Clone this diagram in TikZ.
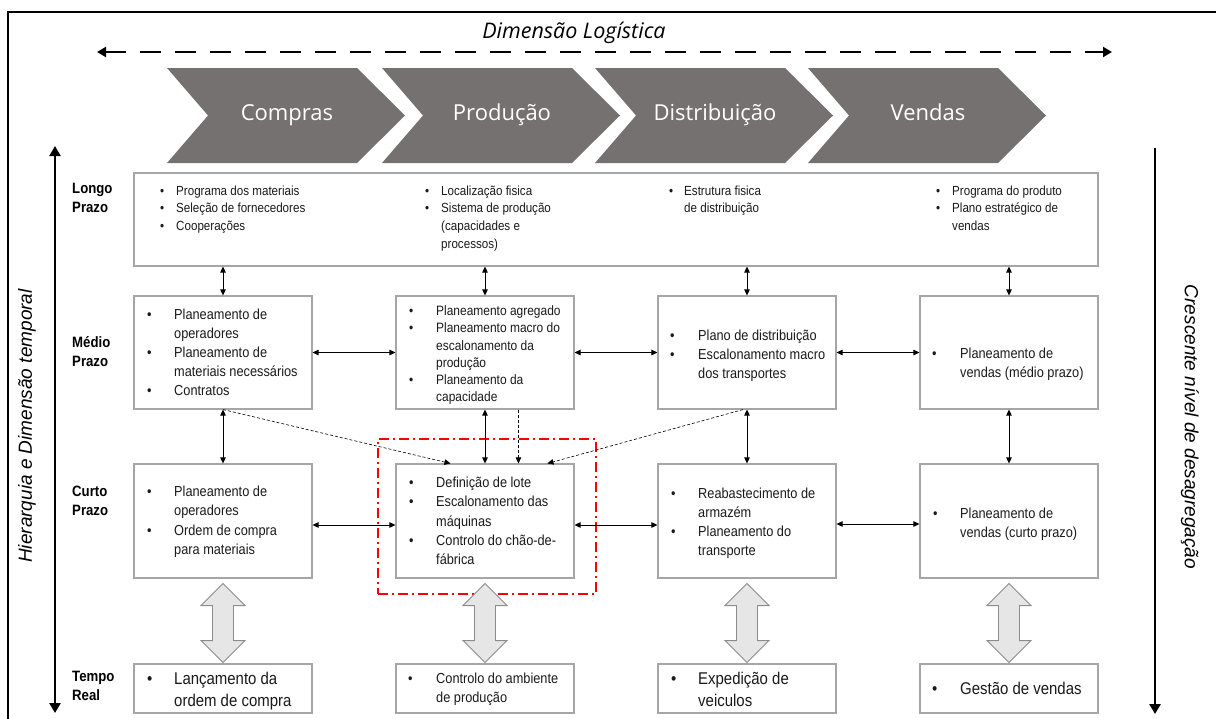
\documentclass[tikz,border=0pt]{standalone}
\usepackage{fontspec}
\setmainfont{Liberation Sans}
\newfontfamily\nar[FakeStretch=0.88]{Liberation Sans}
\newfontfamily\osans{Open Sans}
\usetikzlibrary{arrows.meta,calc}
\definecolor{chev}{HTML}{767171}
\definecolor{boxline}{HTML}{A6A6A6}
\definecolor{txtc}{HTML}{1A1A1A}
\definecolor{bigfill}{HTML}{E6E6E6}
\definecolor{bigline}{HTML}{8C8C8C}
\begin{document}
\begin{tikzpicture}[x=1pt,y=-1pt,
  box/.style={draw=boxline,line width=1.1pt,fill=white,inner sep=0pt},
  chevshape/.style={fill=chev,draw=none},
  chevtxt/.style={text=white,font=\osans\fontsize{22}{26}\selectfont,inner sep=0pt,text height=16pt,text depth=5pt},
  tS/.style={inner sep=0pt,anchor=west,text=txtc,font=\nar\fontsize{13.2}{15}\selectfont,text height=9.5pt,text depth=2.8pt},
  tN/.style={inner sep=0pt,anchor=west,text=txtc,font=\nar\fontsize{13.6}{16}\selectfont,text height=9.8pt,text depth=2.9pt},
  tM/.style={inner sep=0pt,anchor=west,text=txtc,font=\nar\fontsize{14.5}{17}\selectfont,text height=10.4pt,text depth=3pt},
  tL/.style={inner sep=0pt,anchor=west,text=txtc,font=\nar\fontsize{17}{20}\selectfont,text height=12.2pt,text depth=3.6pt},
  lab/.style={inner sep=0pt,anchor=west,font=\nar\bfseries\fontsize{15}{18}\selectfont,text height=10.8pt,text depth=3.2pt},
  dbl/.style={{Triangle[length=6pt,width=5.5pt]}-{Triangle[length=6pt,width=5.5pt]},line width=0.8pt},
  dsh/.style={-{Triangle[length=6pt,width=5.5pt]},dash pattern=on 3pt off 2pt,line width=0.6pt},
  thickarr/.style={line width=2.8pt},
  bigarr/.style={fill=bigfill,draw=bigline,line width=0.9pt,line join=miter},
  focus/.style={draw=red,line width=1.8pt,dash pattern=on 10pt off 4pt on 2pt off 4pt,inner sep=0pt}
]
\useasboundingbox (0,0) rectangle (1216,718);
% frame
\draw[line width=1.5pt] (8,725) -- (8,12) -- (1225,12);

% title and logistic arrow
\node[font=\osans\itshape\fontsize{21.5}{24}\selectfont,inner sep=0pt] (title) at (574,33) {Dimensão Logística};
\coordinate (dl) at (97,52);
\coordinate (dr) at (1112,52);
\draw[line width=2.4pt,dash pattern=on 21pt off 14pt,{Triangle[length=9pt,width=10pt]}-{Triangle[length=9pt,width=10pt]}] (dl) -- (dr);

% chevrons
\foreach \x/\t [count=\i] in {167/Compras,382/Produção,595/Distribuição,808/Vendas}{
  \fill[chevshape] (\x,68) -- ++(190,0) -- ++(48,47.5) -- ++(-48,47.5) -- ++(-190,0) -- ++(41,-47.5) -- cycle;
  \node[chevtxt] (c\i) at (\x+120,115) {\t};
}

% side arrows and labels
\coordinate (la1) at (55,146);
\coordinate (la2) at (55,713);
\draw[thickarr,{Triangle[length=10pt,width=11pt]}-{Triangle[length=10pt,width=11pt]}] (la1) -- (la2);
\coordinate (ra1) at (1155,148);
\coordinate (ra2) at (1155,714);
\draw[thickarr,-{Triangle[length=10pt,width=11pt]}] (ra1) -- (ra2);
\node[rotate=90,font=\itshape\fontsize{19}{22}\selectfont,inner sep=0pt] (hl) at (27,426) {Hierarquia e Dimensão temporal};
\node[rotate=-90,font=\itshape\fontsize{19}{22}\selectfont,inner sep=0pt] (hr) at (1190,427) {Crescente nível de desagregação};

% row labels
\foreach \y/\t [count=\i] in {190/Longo,209/Prazo,344/Médio,363/Prazo,493/Curto,512/Prazo,678/Tempo,697/Real}
  \node[lab] (rl\i) at (72,\y) {\t};

% focus box
\node[focus,minimum width=218pt,minimum height=155pt] (foc) at (487,516.5) {};

% boxes
\node[box,minimum width=964pt,minimum height=93pt] (L) at (616,219.5) {};
\foreach \cx [count=\i] in {223,485,747,1009}{
  \node[box,minimum width=178pt,minimum height=113pt] (M\i) at (\cx,352.5) {};
  \node[box,minimum width=178pt,minimum height=114pt] (S\i) at (\cx,521) {};
  \node[box,minimum width=178pt,minimum height=49pt] (R\i) at (\cx,688.5) {};
}

% long box text
\foreach \x/\y [count=\i] in {160/192,160/209.5,160/227,425/192,425/209.5,669/192,936/192,936/209.5}
  \node[tS] (Lb\i) at (\x,\y) {•};
\foreach \x/\y/\t [count=\i] in {176/192/Programa dos materiais,176/209.5/Seleção de fornecedores,176/227/Cooperações,
  441/192/Localização fisica,441/209.5/Sistema de produção,441/227/(capacidades e,441/245/processos),
  684/192/Estrutura fisica,684/209.5/de distribuição,
  952/192/Programa do produto,952/209.5/Plano estratégico de,952/227/vendas}
  \node[tS] (Lt\i) at (\x,\y) {\t};

% medium row text
\foreach \x/\y [count=\i] in {147/316,147/354,147/392,670/337,670/356,932/355}
  \node[tM] (Mb\i) at (\x,\y) {•};
\foreach \x/\y/\t [count=\i] in {174/316/Planeamento de,174/335/operadores,174/354/Planeamento de,174/373/materiais necessários,174/392/Contratos,
  698/337/Plano de distribuição,698/356/Escalonamento macro,698/375/dos transportes,
  960/355/Planeamento de,960/374/vendas (médio prazo)}
  \node[tM] (Mt\i) at (\x,\y) {\t};
\foreach \y [count=\i] in {312,329.5,381}
  \node[tN] (Nb\i) at (409,\y) {•};
\foreach \y/\t [count=\i] in {312/Planeamento agregado,329.5/Planeamento macro do,347/escalonamento da,364/produção,381/Planeamento da,398/capacidade}
  \node[tN] (Nt\i) at (436,\y) {\t};

% short row text
\foreach \x/\y [count=\i] in {147/493,147/532,409/484,409/503,409/542,671/495,671/533,933/515}
  \node[tM] (Sb\i) at (\x,\y) {•};
\foreach \x/\y/\t [count=\i] in {174/493/Planeamento de,174/512/operadores,174/532/Ordem de compra,174/551/para materiais,
  436/484/Definição de lote,436/503/Escalonamento das,436/523/máquinas,436/542/Controlo do chão-de-,436/561/fábrica,
  698/495/Reabastecimento de,698/514/armazém,698/533/Planeamento do,698/552/transporte,
  960/515/Planeamento de,960/534/vendas (curto prazo)}
  \node[tM] (St\i) at (\x,\y) {\t};

% real time row text
\foreach \x/\y [count=\i] in {147/680,671/680,932/690}
  \node[tL] (Rb\i) at (\x,\y) {•};
\foreach \x/\y/\t [count=\i] in {174/680/Lançamento da,174/702/ordem de compra,698/680/Expedição de,698/702/veiculos,960/690/Gestão de vendas}
  \node[tL] (Rt\i) at (\x,\y) {\t};
\node[tM] (Rb4) at (408,680) {•};
\node[tM] (Rt6) at (436,680) {Controlo do ambiente};
\node[tM] (Rt7) at (436,699) {de produção};

% connectors
\foreach \i in {1,2,3,4}{
  \draw[dbl] (L.south -| M\i.north) -- (M\i.north);
  \draw[dbl] (M\i.south) -- (S\i.north);
}
\draw[dbl] (M1.east) -- (M2.west);
\draw[dbl] (M2.east) -- (M3.west);
\draw[dbl] (M3.east) -- (M4.west);
\draw[dbl] ($(S1.east)+(0,4)$) -- ($(S2.west)+(0,4)$);
\draw[dbl] ($(S2.east)+(0,4)$) -- ($(S3.west)+(0,4)$);
\draw[dbl] ($(S3.east)+(0,3)$) -- ($(S4.west)+(0,3)$);

\coordinate (d1) at ($(S2.north west)+(55,0)$);
\coordinate (d2a) at ($(M2.south west)+(123,0)$);
\coordinate (d2) at ($(S2.north west)+(123,0)$);
\coordinate (d3) at ($(S2.north west)+(152,0)$);
\coordinate (d3a) at ($(M3.south)+(-4,0)$);
\draw[dsh] (M1.south) -- (d1);
\draw[dsh] (d2a) -- (d2);
\draw[dsh] (d3a) -- (d3);

% big block arrows
\foreach \i in {1,2,3,4}{
  \coordinate (ba\i) at ($(S\i.south)+(0,5)$);
  \draw[bigarr] (ba\i) -- ++(22,22) -- ++(-11.5,0) -- ++(0,35) -- ++(11.5,0) -- ++(-22,22) -- ++(-22,-22) -- ++(11.5,0) -- ++(0,-35) -- ++(-11.5,0) -- cycle;
}
\end{tikzpicture}
\end{document}
